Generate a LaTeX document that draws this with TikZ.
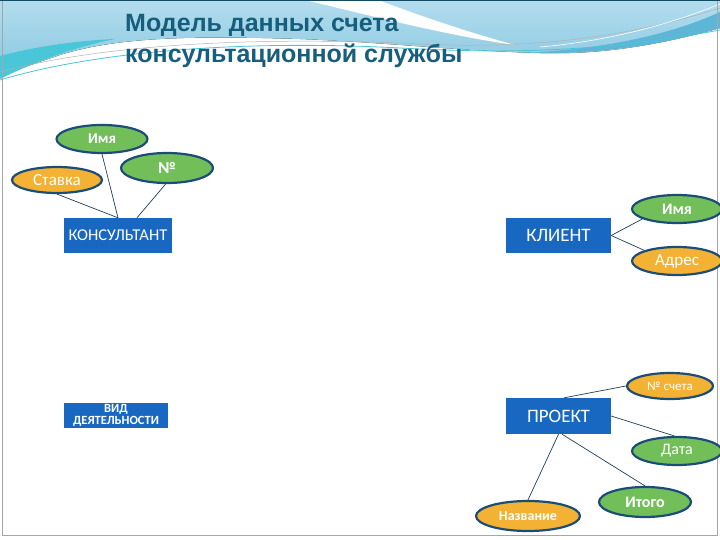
\documentclass[tikz,border=0pt]{standalone}
\usepackage{fontspec}
\setmainfont{Carlito}
\newfontfamily\titlefont{Liberation Sans}
\usetikzlibrary{shapes.geometric}
\definecolor{boxblue}{HTML}{1868C2}
\definecolor{attgreen}{HTML}{72BF5A}
\definecolor{attorange}{HTML}{F3B233}
\definecolor{attedge}{HTML}{1C4D78}
\definecolor{lnk}{HTML}{1E3F5E}
\definecolor{titlec}{HTML}{175E7C}
\definecolor{hdrtop}{HTML}{B3DDEE}
\definecolor{hdrbot}{HTML}{86C6E0}
\definecolor{turq}{HTML}{49C6D8}
\definecolor{deepteal}{HTML}{5DB6D6}
\tikzset{
  entity/.style={rectangle, fill=boxblue, text=white, inner sep=0pt, font=\fontsize{19}{21}\selectfont},
  attr/.style={ellipse, draw=attedge, line width=2.2pt, text=white, inner sep=0pt, font=\bfseries\fontsize{16}{18}\selectfont},
  green attr/.style={attr, fill=attgreen},
  orange attr/.style={attr, fill=attorange},
  link/.style={draw=lnk, line width=0.7pt},
  titletext/.style={anchor=base west, text=titlec, inner sep=0pt, font=\titlefont\bfseries\fontsize{25}{30}\selectfont}
}
\begin{document}
\begin{tikzpicture}[x=1pt,y=-1pt]
\useasboundingbox (0,0) rectangle (720,540);
\fill[white] (0,0) rectangle (720,540);
% header decoration
\fill[top color=hdrtop, bottom color=hdrbot] (0,0) -- (720,0) -- (720,28)
  .. controls (660,45) and (600,55) .. (540,53)
  .. controls (460,51) and (380,42) .. (300,39)
  .. controls (200,36) and (120,36) .. (60,55)
  .. controls (30,65) and (10,72) .. (0,78) -- cycle;
\fill[turq] (0,56) .. controls (30,48) and (70,41) .. (115,39)
  .. controls (70,48) and (30,64) .. (0,79) -- cycle;
\fill[deepteal] (520,53) .. controls (600,50) and (670,35) .. (720,12)
  -- (720,28) .. controls (660,45) and (600,55) .. (520,53) -- cycle;
\fill[white] (305,0) .. controls (380,18) and (450,36) .. (515,45)
  .. controls (460,30) and (410,12) .. (378,0) -- cycle;
\draw[turq, line width=0.8pt] (0,80) .. controls (100,50) and (250,40) .. (400,48)
  .. controls (480,52) and (580,56) .. (720,30);
\draw[gray!60, line width=0.5pt] (0,72) .. controls (100,45) and (250,36) .. (420,44)
  .. controls (520,49) and (620,40) .. (720,8);
\draw[white, line width=0.6pt] (540,47) .. controls (620,40) and (680,20) .. (720,4);
% frame
\draw[gray!70, line width=0.6pt] (2,1) -- (2,535) -- (717,535) -- (717,1);
\draw[titlec!80!black, line width=1.2pt] (0,0.6) -- (720,0.6);
% title
\node[titletext] (t1) at (125,32) {Модель данных счета};
\node[titletext] (t2) at (125,63) {консультационной службы};
% entities
\node[entity, minimum width=108pt, minimum height=35pt, font=\fontsize{16.5}{18}\selectfont] (cons) at (118,235.5) {КОНСУЛЬТАНТ};
\node[entity, minimum width=105pt, minimum height=35pt] (client) at (558.5,235.5) {КЛИЕНТ};
\node[entity, minimum width=105pt, minimum height=36pt] (proj) at (558.5,416) {ПРОЕКТ};
\node[entity, minimum width=104pt, minimum height=25pt, align=center, font=\bfseries\fontsize{12.5}{12}\selectfont] (vid) at (116,415) {ВИД\\ДЕЯТЕЛЬНОСТИ};
% attributes
\node[green attr, minimum width=91pt, minimum height=28pt, font=\bfseries\fontsize{15}{17}\selectfont] (name1) at (102,139) {Имя};
\node[orange attr, minimum width=90pt, minimum height=26pt, font=\fontsize{17}{19}\selectfont] (rate) at (57,180) {Ставка};
\node[green attr, minimum width=92pt, minimum height=30pt, font=\bfseries\fontsize{17}{19}\selectfont] (num) at (167,168) {№};
\node[green attr, minimum width=90pt, minimum height=28pt] (name2) at (677,209) {Имя};
\node[orange attr, minimum width=90pt, minimum height=28pt, font=\fontsize{17}{19}\selectfont] (addr) at (677,261) {Адрес};
\node[orange attr, minimum width=86pt, minimum height=26pt, font=\fontsize{13}{15}\selectfont] (invno) at (670,386) {№ счета};
\node[green attr, minimum width=90pt, minimum height=28pt, font=\fontsize{16}{18}\selectfont] (date) at (677,451) {Дата};
\node[green attr, minimum width=92pt, minimum height=30pt] (total) at (645,502) {Итого};
\node[orange attr, minimum width=104pt, minimum height=30pt, font=\bfseries\fontsize{14}{16}\selectfont] (title) at (528,516) {Название};
% connectors
\draw[link] (name1.south) -- (cons.north);
\draw[link] (rate.south) -- (cons.north);
\draw[link] (num.265) -- (cons.43);
\draw[link] (client.east) -- (name2.196);
\draw[link] (client.east) -- (addr.162);
\draw[link] (proj.73) -- (invno.west);
\draw[link] (proj.east) -- (date.100);
\draw[link] (proj.south) -- (title.north);
\draw[link] (proj.-79) -- (total.north);
\end{tikzpicture}
\end{document}
